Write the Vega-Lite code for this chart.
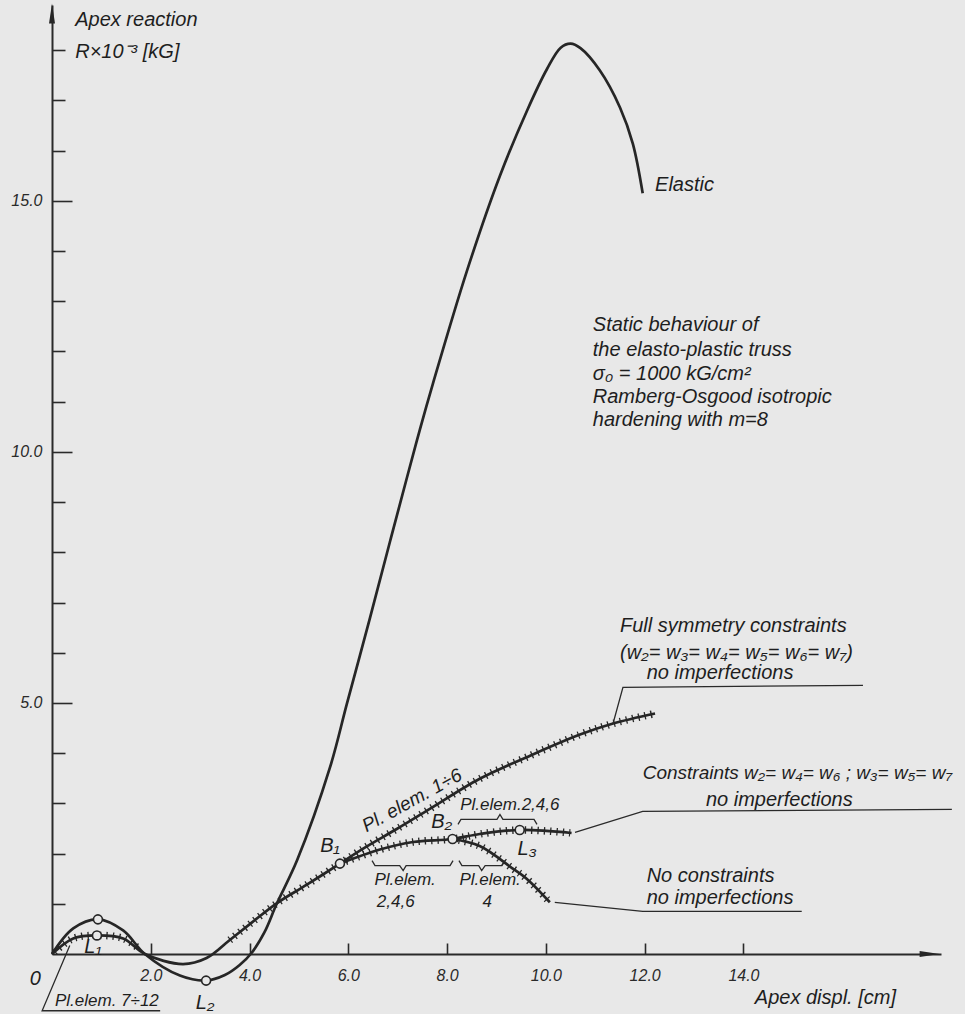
{
  "$schema": "https://vega.github.io/schema/vega-lite/v6.json",
  "width": 889,
  "height": 949,
  "autosize": {"type": "none"},
  "padding": {"left": 52, "top": 5, "right": 24, "bottom": 60},
  "background": "#e8e8e8",
  "config": {"view": {"stroke": null}, "font": "Liberation Sans"},
  "datasets": {
    "curves": [
      {"s": "elastic", "x": 0, "y": 0}, {"s": "elastic", "x": 0.43, "y": 0.51}, {"s": "elastic", "x": 0.93, "y": 0.69}, {"s": "elastic", "x": 1.44, "y": 0.47}, {"s": "elastic", "x": 1.88, "y": 0}, {"s": "elastic", "x": 2.59, "y": -0.43}, {"s": "elastic", "x": 3.12, "y": -0.53}, {"s": "elastic", "x": 3.5, "y": -0.42}, {"s": "elastic", "x": 3.8, "y": -0.22}, {"s": "elastic", "x": 4.04, "y": 0.02}, {"s": "elastic", "x": 4.3, "y": 0.43}, {"s": "elastic", "x": 4.55, "y": 1.0}, {"s": "elastic", "x": 4.96, "y": 1.86}, {"s": "elastic", "x": 5.63, "y": 3.72}, {"s": "elastic", "x": 5.97, "y": 4.98}, {"s": "elastic", "x": 6.44, "y": 6.7}, {"s": "elastic", "x": 6.84, "y": 8.2}, {"s": "elastic", "x": 7.19, "y": 9.5}, {"s": "elastic", "x": 7.45, "y": 10.45}, {"s": "elastic", "x": 7.71, "y": 11.35}, {"s": "elastic", "x": 8.4, "y": 13.6}, {"s": "elastic", "x": 9.07, "y": 15.5}, {"s": "elastic", "x": 9.62, "y": 16.8}, {"s": "elastic", "x": 10.02, "y": 17.62}, {"s": "elastic", "x": 10.3, "y": 18.05}, {"s": "elastic", "x": 10.5, "y": 18.13}, {"s": "elastic", "x": 10.7, "y": 18.04}, {"s": "elastic", "x": 11.09, "y": 17.6}, {"s": "elastic", "x": 11.5, "y": 16.86}, {"s": "elastic", "x": 11.76, "y": 16.14}, {"s": "elastic", "x": 11.96, "y": 15.15},
      {"s": "plastic", "x": 0, "y": 0}, {"s": "plastic", "x": 0.43, "y": 0.31}, {"s": "plastic", "x": 0.91, "y": 0.37}, {"s": "plastic", "x": 1.44, "y": 0.31}, {"s": "plastic", "x": 1.88, "y": 0}, {"s": "plastic", "x": 2.65, "y": -0.2}, {"s": "plastic", "x": 3.13, "y": -0.08}, {"s": "plastic", "x": 3.6, "y": 0.28}, {"s": "plastic", "x": 4.05, "y": 0.63}, {"s": "plastic", "x": 4.55, "y": 1.01}, {"s": "plastic", "x": 5.16, "y": 1.38}, {"s": "plastic", "x": 5.83, "y": 1.8},
      {"s": "full", "x": 5.83, "y": 1.8}, {"s": "full", "x": 6.3, "y": 2.1}, {"s": "full", "x": 6.98, "y": 2.49}, {"s": "full", "x": 7.65, "y": 2.89}, {"s": "full", "x": 8.66, "y": 3.49}, {"s": "full", "x": 9.68, "y": 3.95}, {"s": "full", "x": 10.69, "y": 4.37}, {"s": "full", "x": 11.36, "y": 4.59}, {"s": "full", "x": 12.21, "y": 4.79},
      {"s": "constr", "x": 5.83, "y": 1.8}, {"s": "constr", "x": 6.64, "y": 2.08}, {"s": "constr", "x": 7.31, "y": 2.23}, {"s": "constr", "x": 8.11, "y": 2.29}, {"s": "constr", "x": 8.66, "y": 2.39}, {"s": "constr", "x": 9.47, "y": 2.47}, {"s": "constr", "x": 10.52, "y": 2.41},
      {"s": "nocon", "x": 8.11, "y": 2.29}, {"s": "nocon", "x": 8.66, "y": 2.15}, {"s": "nocon", "x": 9.33, "y": 1.7}, {"s": "nocon", "x": 9.61, "y": 1.5}, {"s": "nocon", "x": 10.08, "y": 1.03}
    ],
    "hatch": [
      {"g": "h1", "x": 0.05, "y": 0.04}, {"g": "h1", "x": 0.43, "y": 0.31}, {"g": "h1", "x": 0.91, "y": 0.37}, {"g": "h1", "x": 1.44, "y": 0.31}, {"g": "h1", "x": 1.78, "y": 0.09},
      {"g": "h2", "x": 3.6, "y": 0.28}, {"g": "h2", "x": 4.05, "y": 0.63}, {"g": "h2", "x": 4.55, "y": 1.01}, {"g": "h2", "x": 5.16, "y": 1.38}, {"g": "h2", "x": 5.83, "y": 1.8},
      {"g": "h3", "x": 5.83, "y": 1.8}, {"g": "h3", "x": 6.3, "y": 2.1}, {"g": "h3", "x": 6.98, "y": 2.49}, {"g": "h3", "x": 7.65, "y": 2.89}, {"g": "h3", "x": 8.66, "y": 3.49}, {"g": "h3", "x": 9.68, "y": 3.95}, {"g": "h3", "x": 10.69, "y": 4.37}, {"g": "h3", "x": 11.36, "y": 4.59}, {"g": "h3", "x": 12.21, "y": 4.79},
      {"g": "h4", "x": 5.83, "y": 1.8}, {"g": "h4", "x": 6.64, "y": 2.08}, {"g": "h4", "x": 7.31, "y": 2.23}, {"g": "h4", "x": 8.11, "y": 2.29}, {"g": "h4", "x": 8.66, "y": 2.39}, {"g": "h4", "x": 9.47, "y": 2.47}, {"g": "h4", "x": 10.52, "y": 2.41},
      {"g": "h5", "x": 8.11, "y": 2.29}, {"g": "h5", "x": 8.66, "y": 2.15}, {"g": "h5", "x": 9.33, "y": 1.7}, {"g": "h5", "x": 9.61, "y": 1.5}, {"g": "h5", "x": 10.08, "y": 1.03}
    ],
    "guides": [
      {"g": "lead712", "o": 1, "x": 0.36, "y": 0.17}, {"g": "lead712", "o": 2, "x": -0.2, "y": -1.13}, {"g": "lead712", "o": 3, "x": 2.19, "y": -1.13},
      {"g": "leadFull", "o": 1, "x": 11.36, "y": 4.59}, {"g": "leadFull", "o": 2, "x": 11.56, "y": 5.31}, {"g": "leadFull", "o": 3, "x": 16.42, "y": 5.35},
      {"g": "leadCon", "o": 1, "x": 10.59, "y": 2.42}, {"g": "leadCon", "o": 2, "x": 11.96, "y": 2.84}, {"g": "leadCon", "o": 3, "x": 18.22, "y": 2.88},
      {"g": "leadNo", "o": 1, "x": 10.18, "y": 1.03}, {"g": "leadNo", "o": 2, "x": 11.96, "y": 0.85}, {"g": "leadNo", "o": 3, "x": 15.18, "y": 0.85},
      {"g": "br1", "o": 1, "x": 6.48, "y": 1.86}, {"g": "br1", "o": 2, "x": 6.54, "y": 1.76}, {"g": "br1", "o": 3, "x": 7.04, "y": 1.76}, {"g": "br1", "o": 4, "x": 7.11, "y": 1.66}, {"g": "br1", "o": 5, "x": 7.17, "y": 1.76}, {"g": "br1", "o": 6, "x": 8.06, "y": 1.76}, {"g": "br1", "o": 7, "x": 8.12, "y": 1.86},
      {"g": "br2", "o": 1, "x": 8.24, "y": 1.86}, {"g": "br2", "o": 2, "x": 8.3, "y": 1.76}, {"g": "br2", "o": 3, "x": 8.64, "y": 1.76}, {"g": "br2", "o": 4, "x": 8.7, "y": 1.66}, {"g": "br2", "o": 5, "x": 8.77, "y": 1.76}, {"g": "br2", "o": 6, "x": 9.11, "y": 1.76}, {"g": "br2", "o": 7, "x": 9.17, "y": 1.86},
      {"g": "br3", "o": 1, "x": 8.22, "y": 2.58}, {"g": "br3", "o": 2, "x": 8.28, "y": 2.68}, {"g": "br3", "o": 3, "x": 9.01, "y": 2.68}, {"g": "br3", "o": 4, "x": 9.07, "y": 2.78}, {"g": "br3", "o": 5, "x": 9.13, "y": 2.68}, {"g": "br3", "o": 6, "x": 9.76, "y": 2.68}, {"g": "br3", "o": 7, "x": 9.82, "y": 2.58}
    ],
    "circles": [
      {"x": 0.93, "y": 0.69}, {"x": 0.91, "y": 0.37}, {"x": 3.12, "y": -0.53}, {"x": 5.83, "y": 1.8}, {"x": 8.11, "y": 2.29}, {"x": 9.47, "y": 2.47}
    ],
    "arrows": [
      {"d": "up", "x": 0, "y": 18.73}, {"d": "right", "x": 17.77, "y": 0}
    ],
    "labels": [
      {"k": "L", "t": "Apex reaction", "x": 0.47, "y": 18.6},
      {"k": "L", "t": "R×10⁻³ [kG]", "x": 0.47, "y": 17.96},
      {"k": "L", "t": "Elastic", "x": 12.21, "y": 15.31},
      {"k": "L", "t": "Static behaviour of", "x": 10.95, "y": 12.52},
      {"k": "L", "t": "the elasto-plastic truss", "x": 10.95, "y": 12.02},
      {"k": "L", "t": "σ₀ = 1000 kG/cm²", "x": 10.95, "y": 11.56},
      {"k": "L", "t": "Ramberg-Osgood isotropic", "x": 10.95, "y": 11.09},
      {"k": "L", "t": "hardening with m=8", "x": 10.95, "y": 10.63},
      {"k": "L", "t": "Full symmetry constraints", "x": 11.5, "y": 6.54},
      {"k": "L", "t": "(w₂= w₃= w₄= w₅= w₆= w₇)", "x": 11.5, "y": 5.99},
      {"k": "L", "t": "no imperfections", "x": 12.04, "y": 5.59},
      {"k": "LM", "t": "Constraints  w₂= w₄= w₆ ; w₃= w₅= w₇", "x": 11.96, "y": 3.6},
      {"k": "L", "t": "no imperfections", "x": 13.24, "y": 3.06},
      {"k": "L", "t": "No constraints", "x": 12.04, "y": 1.56},
      {"k": "L", "t": "no imperfections", "x": 12.04, "y": 1.11},
      {"k": "L", "t": "Apex displ. [cm]", "x": 14.23, "y": -0.87},
      {"k": "LS", "t": "Pl.elem. 7÷12", "x": 0.06, "y": -0.93},
      {"k": "C", "t": "0", "x": -0.34, "y": -0.49},
      {"k": "C", "t": "L₁", "x": 0.83, "y": 0.13},
      {"k": "C", "t": "L₂", "x": 3.1, "y": -0.97},
      {"k": "C", "t": "B₁", "x": 5.63, "y": 2.16},
      {"k": "C", "t": "B₂", "x": 7.89, "y": 2.62},
      {"k": "C", "t": "L₃", "x": 9.62, "y": 2.1},
      {"k": "S", "t": "Pl.elem.2,4,6", "x": 9.27, "y": 2.96},
      {"k": "S", "t": "Pl.elem.", "x": 7.15, "y": 1.47},
      {"k": "S", "t": "2,4,6", "x": 6.96, "y": 1.04},
      {"k": "S", "t": "Pl.elem.", "x": 8.87, "y": 1.47},
      {"k": "S", "t": "4", "x": 8.81, "y": 1.04},
      {"k": "R", "t": "Pl. elem. 1÷6", "x": 7.29, "y": 3.06}
    ]
  },
  "encoding": {
    "x": {
      "field": "x", "type": "quantitative",
      "scale": {"domain": [0, 18], "nice": false, "zero": false},
      "axis": {
        "title": null, "grid": false,
        "values": [2, 4, 6, 8, 10, 12, 14],
        "labelExpr": "format(datum.value, '.1f')",
        "tickSize": -11, "labelPadding": 24,
        "domainColor": "#2a2a2a", "domainWidth": 2,
        "tickColor": "#2a2a2a", "tickWidth": 1.6,
        "labelFont": "Liberation Sans", "labelFontStyle": "italic", "labelFontSize": 16,
        "labelColor": "#2a2a2a", "labelFlush": false, "labelOverlap": false
      }
    },
    "y": {
      "field": "y", "type": "quantitative",
      "scale": {"domain": [0, 18.9], "nice": false, "zero": false},
      "axis": {
        "title": null, "grid": false,
        "values": [1, 2, 3, 4, 5, 6, 7, 8, 9, 10, 11, 12, 13, 14, 15, 16, 17, 18],
        "labelExpr": "datum.value % 5 === 0 ? format(datum.value, '.1f') : ''",
        "tickSize": {"condition": {"test": "datum.value % 5 === 0", "value": -20}, "value": -13},
        "labelPadding": 30,
        "domainColor": "#2a2a2a", "domainWidth": 2,
        "tickColor": "#2a2a2a", "tickWidth": 1.6,
        "labelFont": "Liberation Sans", "labelFontStyle": "italic", "labelFontSize": 16,
        "labelColor": "#2a2a2a", "labelFlush": false, "labelOverlap": false
      }
    }
  },
  "layer": [
    {
      "data": {"name": "curves"},
      "mark": {"type": "line", "interpolate": "catmull-rom", "strokeWidth": 2.7, "color": "#262626"},
      "encoding": {"detail": {"field": "s"}}
    },
    {
      "data": {"name": "hatch"},
      "mark": {"type": "line", "interpolate": "catmull-rom", "strokeWidth": 7.5, "strokeDash": [1.3, 5], "strokeCap": "butt", "color": "#262626"},
      "encoding": {"detail": {"field": "g"}}
    },
    {
      "data": {"name": "guides"},
      "mark": {"type": "line", "strokeWidth": 1.3, "color": "#2a2a2a"},
      "encoding": {"detail": {"field": "g"}, "order": {"field": "o"}}
    },
    {
      "data": {"name": "circles"},
      "mark": {"type": "point", "shape": "circle", "filled": true, "fill": "#e8e8e8", "stroke": "#262626", "strokeWidth": 1.6, "size": 80, "opacity": 1}
    },
    {
      "data": {"name": "arrows"},
      "mark": {"type": "point", "filled": true, "color": "#262626", "size": 400, "opacity": 1},
      "encoding": {
        "shape": {"field": "d", "type": "nominal", "scale": {"domain": ["up", "right"], "range": ["M0,-1L0.3,1L-0.3,1Z", "M1,0L-1,0.3L-1,-0.3Z"]}, "legend": null}
      }
    },
    {
      "data": {"name": "labels"},
      "transform": [{"filter": "datum.k === 'L'"}],
      "mark": {"type": "text", "align": "left", "baseline": "middle", "font": "Liberation Sans", "fontStyle": "italic", "fontSize": 20, "color": "#1e1e1e"},
      "encoding": {"text": {"field": "t"}}
    },
    {
      "data": {"name": "labels"},
      "transform": [{"filter": "datum.k === 'LM'"}],
      "mark": {"type": "text", "align": "left", "baseline": "middle", "font": "Liberation Sans", "fontStyle": "italic", "fontSize": 19, "color": "#1e1e1e"},
      "encoding": {"text": {"field": "t"}}
    },
    {
      "data": {"name": "labels"},
      "transform": [{"filter": "datum.k === 'LS'"}],
      "mark": {"type": "text", "align": "left", "baseline": "middle", "font": "Liberation Sans", "fontStyle": "italic", "fontSize": 17, "color": "#1e1e1e"},
      "encoding": {"text": {"field": "t"}}
    },
    {
      "data": {"name": "labels"},
      "transform": [{"filter": "datum.k === 'C'"}],
      "mark": {"type": "text", "align": "center", "baseline": "middle", "font": "Liberation Sans", "fontStyle": "italic", "fontSize": 20, "color": "#1e1e1e"},
      "encoding": {"text": {"field": "t"}}
    },
    {
      "data": {"name": "labels"},
      "transform": [{"filter": "datum.k === 'S'"}],
      "mark": {"type": "text", "align": "center", "baseline": "middle", "font": "Liberation Sans", "fontStyle": "italic", "fontSize": 17, "color": "#1e1e1e"},
      "encoding": {"text": {"field": "t"}}
    },
    {
      "data": {"name": "labels"},
      "transform": [{"filter": "datum.k === 'R'"}],
      "mark": {"type": "text", "align": "center", "baseline": "middle", "angle": -29, "font": "Liberation Sans", "fontStyle": "italic", "fontSize": 19, "color": "#1e1e1e"},
      "encoding": {"text": {"field": "t"}}
    }
  ]
}
